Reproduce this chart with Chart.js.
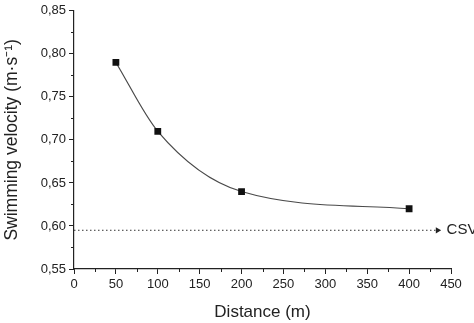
<!DOCTYPE html>
<html>
<head>
<meta charset="utf-8">
<script src="https://cdn.jsdelivr.net/npm/chart.js@4.4.0/dist/chart.umd.min.js"></script>
<style>
  html, body { margin: 0; padding: 0; background: #fff; }
  #wrap { width: 474px; height: 323px; }
</style>
</head>
<body>
<div id="wrap"><canvas id="velocityChart"></canvas></div>
<script>
// measured swimming velocity at each test distance
var distances = [50, 100, 200, 400];
var velocities = [0.79, 0.71, 0.64, 0.62];

// critical swimming velocity reference line
var csvValue = 0.595;
var csvStart = 0;
var csvEnd = 434;
var csvLabel = "CSV";

var xTicks = [0, 50, 100, 150, 200, 250, 300, 350, 400, 450];
var yTicks = [0.55, 0.60, 0.65, 0.70, 0.75, 0.80, 0.85];

var ink = "#222";
var font = "'Liberation Sans', Arial, sans-serif";

// small ticks half way between the labelled ones, plus the CSV text
var extras = {
  id: "extras",
  afterDraw: function(chart) {
    var ctx = chart.ctx;
    var xs = chart.scales.x, ys = chart.scales.y;
    ctx.save();
    ctx.strokeStyle = ink;
    ctx.lineWidth = 1;
    ctx.beginPath();
    for (var i = 0; i < xTicks.length - 1; i++) {
      var px = Math.round(xs.getPixelForValue((xTicks[i] + xTicks[i + 1]) / 2)) + 0.5;
      ctx.moveTo(px, xs.top);
      ctx.lineTo(px, xs.top + 3);
    }
    for (var j = 0; j < yTicks.length - 1; j++) {
      var py = Math.round(ys.getPixelForValue((yTicks[j] + yTicks[j + 1]) / 2)) + 0.5;
      ctx.moveTo(ys.right, py);
      ctx.lineTo(ys.right - 3, py);
    }
    ctx.stroke();

    ctx.fillStyle = ink;
    ctx.font = "15px " + font;
    ctx.textBaseline = "middle";
    ctx.textAlign = "left";
    ctx.fillText(csvLabel, xs.getPixelForValue(csvEnd) + 9, ys.getPixelForValue(csvValue));
    ctx.restore();
  }
};

var points = distances.map(function(d, i) { return { x: d, y: velocities[i] }; });

var ctx = document.getElementById("velocityChart").getContext("2d");
var myChart = new Chart(ctx, {
  type: "scatter",
  data: {
    datasets: [{
      data: points,
      showLine: true,
      cubicInterpolationMode: "monotone",
      borderColor: "#4a4a4a",
      borderWidth: 1.2,
      backgroundColor: "#111",
      pointStyle: "rect",
      pointRadius: 4.8,
      pointBorderWidth: 0,
      pointHoverRadius: 4.8
    }, {
      data: [{ x: csvStart, y: csvValue }, { x: csvEnd, y: csvValue }],
      showLine: true,
      borderColor: "#333",
      borderWidth: 1,
      borderDash: [1.5, 2.5],
      backgroundColor: "#222",
      pointStyle: "triangle",
      rotation: 90,
      pointRadius: [0, 3.6],
      pointBorderWidth: 0,
      pointHoverRadius: [0, 3.6]
    }]
  },
  options: {
    responsive: true,
    maintainAspectRatio: false,
    animation: false,
    layout: { padding: { top: 7, right: 23, left: 0, bottom: 0 } },
    plugins: {
      legend: { display: false },
      tooltip: { enabled: false }
    },
    scales: {
      x: {
        type: "linear",
        min: 0,
        max: 450,
        afterBuildTicks: function(scale) {
          scale.ticks = xTicks.map(function(v) { return { value: v }; });
        },
        ticks: {
          color: ink,
          font: { family: font, size: 13 },
          padding: 3,
          maxRotation: 0
        },
        grid: { drawOnChartArea: false, tickLength: 5, tickColor: ink, tickWidth: 1 },
        border: { color: ink, width: 1.2 },
        title: {
          display: true,
          text: "Distance (m)",
          color: ink,
          font: { family: font, size: 17 },
          padding: { top: 6, bottom: 0 }
        },
        afterFit: function(scale) { scale.height = 54; }
      },
      y: {
        min: 0.55,
        max: 0.85,
        afterBuildTicks: function(scale) {
          scale.ticks = yTicks.map(function(v) { return { value: v }; });
        },
        ticks: {
          color: ink,
          font: { family: font, size: 13 },
          padding: 3,
          callback: function(v) { return Number(v).toFixed(2).replace(".", ","); }
        },
        grid: { drawOnChartArea: false, tickLength: 5, tickColor: ink, tickWidth: 1 },
        border: { color: ink, width: 1.2 },
        title: {
          display: true,
          text: "Swimming velocity (m·s⁻¹)",
          color: ink,
          font: { family: font, size: 17.5 },
          padding: { top: 2, bottom: 0 }
        },
        afterFit: function(scale) { scale.width = 74; }
      }
    }
  },
  plugins: [extras]
});
</script>
</body>
</html>
